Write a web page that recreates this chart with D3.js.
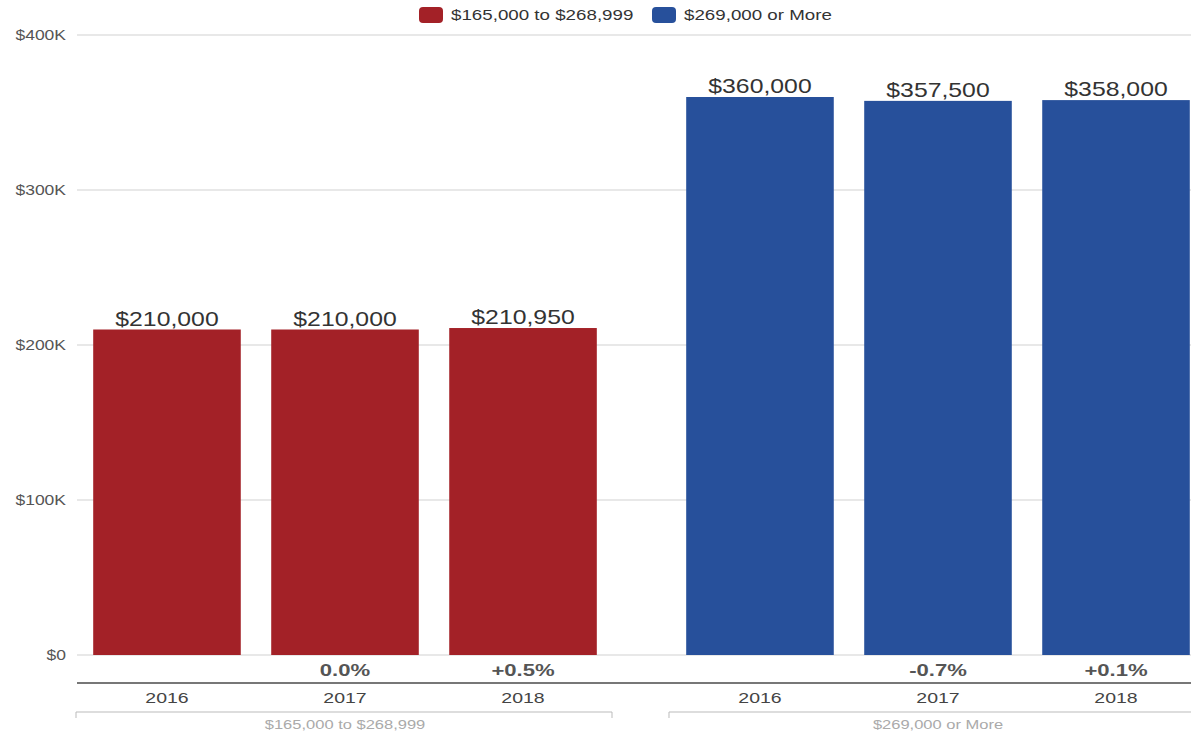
<!DOCTYPE html>
<html><head><meta charset="utf-8">
<script src="https://cdn.jsdelivr.net/npm/d3@7"></script>
<style>html,body{margin:0;padding:0;background:#fff;overflow:hidden}svg{display:block;font-family:"Liberation Sans",Arial,sans-serif}</style>
</head><body>
<svg id="c" width="1191" height="732"></svg>
<script>
const groups = ["$165,000 to $268,999", "$269,000 or More"];
const years = ["2016", "2017", "2018"];
const lowValues = [210000, 210000, 210950];
const highValues = [360000, 357500, 358000];
const lowChanges = ["", "0.0%", "+0.5%"];
const highChanges = ["", "-0.7%", "+0.1%"];
const yTicks = [0, 100000, 200000, 300000, 400000];
const yTickLabels = ["$0", "$100K", "$200K", "$300K", "$400K"];
const colors = ["#A32127", "#27509B"];

const seriesValues = [lowValues, highValues];
const seriesChanges = [lowChanges, highChanges];

const svg = d3.select("#c");
const left = 77, right = 1206, yTop = 35, yBase = 655;

const y = d3.scaleLinear().domain([0, 400000]).range([yBase, yTop]);
const xOuter = d3.scaleBand().domain(groups).range([left, right]).paddingInner(0.0961).paddingOuter(0);
const xInner = d3.scaleBand().domain(years).range([0, xOuter.bandwidth()]).paddingInner(0.171).paddingOuter(0.091);

function place(sel, fx, fy, sx) {
  return sel.attr("transform", (d, i) => `translate(${typeof fx === "function" ? fx(d, i) : fx},${typeof fy === "function" ? fy(d, i) : fy}) scale(${sx},1)`);
}

// gridlines
svg.append("g").selectAll("line").data(yTicks).join("line")
  .attr("x1", left).attr("x2", 1191)
  .attr("y1", d => y(d)).attr("y2", d => y(d))
  .attr("stroke", "#e0e0e0").attr("stroke-width", 1.5);
place(svg.append("g").selectAll("text").data(yTicks).join("text"), 66, d => y(d) + 5, 1.25)
  .attr("text-anchor", "end").attr("font-size", 14).attr("fill", "#555")
  .text((d, i) => yTickLabels[i]);

// bars
groups.forEach((g, gi) => {
  const gx = xOuter(g);
  const data = years.map((yr, i) => ({yr, v: seriesValues[gi][i], c: seriesChanges[gi][i]}));
  const gg = svg.append("g").attr("transform", `translate(${gx},0)`);
  const cx = d => xInner(d.yr) + xInner.bandwidth() / 2;
  gg.selectAll("rect").data(data).join("rect")
    .attr("x", d => xInner(d.yr)).attr("width", xInner.bandwidth())
    .attr("y", d => y(d.v)).attr("height", d => y(0) - y(d.v))
    .attr("fill", colors[gi]);
  place(gg.selectAll("text.val").data(data).join("text").attr("class", "val"), cx, d => y(d.v) - 4, 1.24)
    .attr("text-anchor", "middle").attr("font-size", 20).attr("fill", "#333")
    .text(d => "$" + d3.format(",")(d.v));
  place(gg.selectAll("text.chg").data(data).join("text").attr("class", "chg"), cx, 676, 1.3)
    .attr("text-anchor", "middle").attr("font-size", 17).attr("font-weight", "bold").attr("fill", "#555")
    .text(d => d.c);
  place(gg.selectAll("text.yr").data(data).join("text").attr("class", "yr"), cx, 703, 1.3)
    .attr("text-anchor", "middle").attr("font-size", 15).attr("fill", "#444")
    .text(d => d.yr);
  // bracket
  const bx1 = -1, bx2 = xOuter.bandwidth() - 1;
  gg.append("path")
    .attr("d", `M${bx1},718V712H${bx2}V718`)
    .attr("fill", "none").attr("stroke", "#bbb").attr("stroke-width", 1);
  place(gg.append("text"), xOuter.bandwidth() / 2, 729, 1.27)
    .attr("text-anchor", "middle").attr("font-size", 13).attr("fill", "#aaa")
    .text(g);
});

// axis line
svg.append("line").attr("x1", left).attr("x2", 1191).attr("y1", 683).attr("y2", 683)
  .attr("stroke", "#777").attr("stroke-width", 2);

// legend
const legX = [419, 652];
groups.forEach((g, i) => {
  svg.append("rect").attr("x", legX[i]).attr("y", 7).attr("width", 24).attr("height", 16)
    .attr("rx", 4).attr("fill", colors[i]);
  place(svg.append("text"), legX[i] + 32, 20, 1.25)
    .attr("font-size", 15).attr("fill", "#333").text(g);
});
</script>
</body></html>
